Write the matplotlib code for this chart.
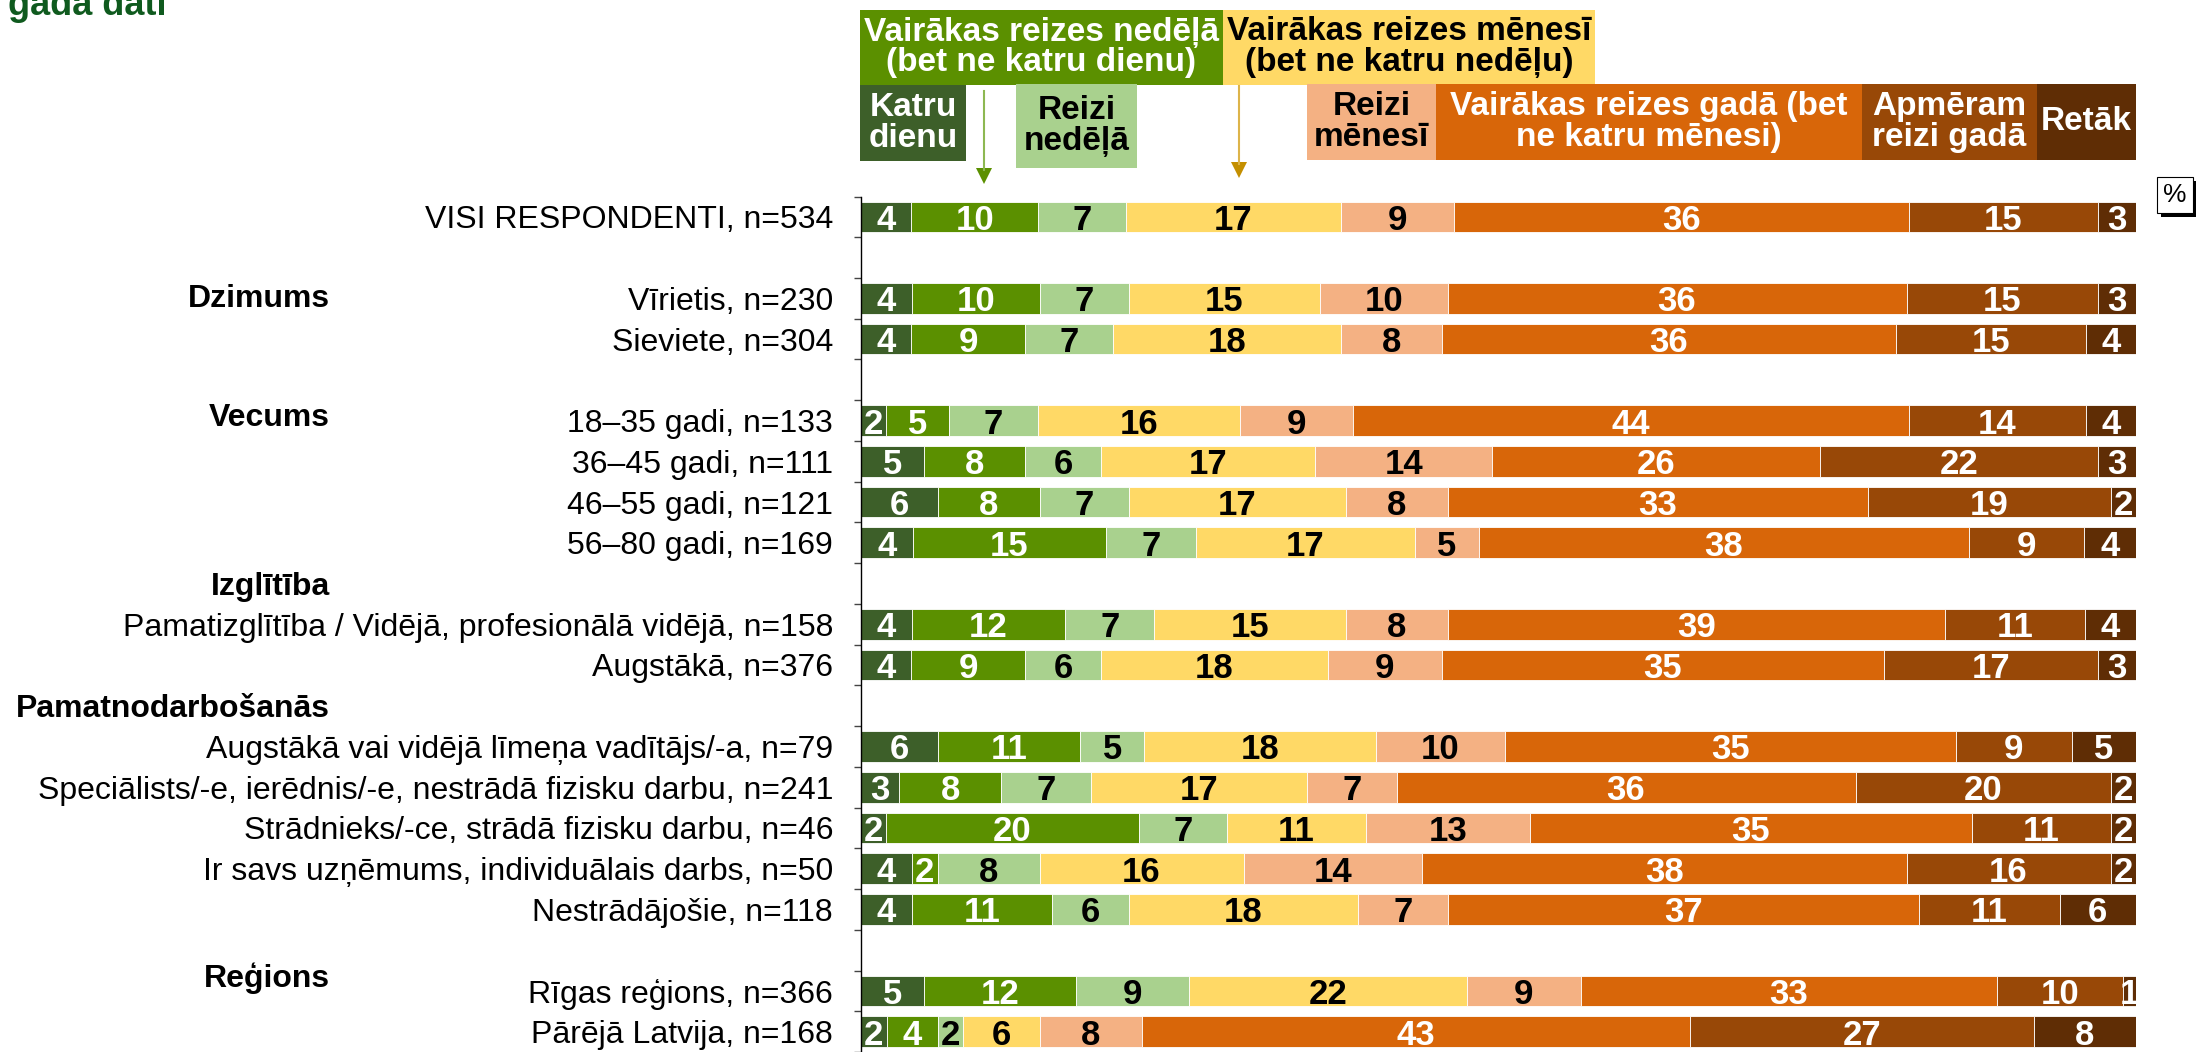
import matplotlib
matplotlib.use("Agg")
import matplotlib.pyplot as plt
import numpy as np
from matplotlib.patches import Rectangle, Polygon
from matplotlib.transforms import blended_transform_factory

# --- data -----------------------------------------------------------------
ROW_LABELS = [
    "VISI RESPONDENTI, n=534",
    "Vīrietis, n=230",
    "Sieviete, n=304",
    "18–35 gadi, n=133",
    "36–45 gadi, n=111",
    "46–55 gadi, n=121",
    "56–80 gadi, n=169",
    "Pamatizglītība / Vidējā, profesionālā vidējā, n=158",
    "Augstākā, n=376",
    "Augstākā vai vidējā līmeņa vadītājs/-a, n=79",
    "Speciālists/-e, ierēdnis/-e, nestrādā fizisku darbu, n=241",
    "Strādnieks/-ce, strādā fizisku darbu, n=46",
    "Ir savs uzņēmums, individuālais darbs, n=50",
    "Nestrādājošie, n=118",
    "Rīgas reģions, n=366",
    "Pārējā Latvija, n=168",
]
HEADINGS = ["Dzimums", "Vecums", "Izglītība", "Pamatnodarbošanās", "Reģions"]

katru_dienu = [4, 4, 4, 2, 5, 6, 4, 4, 4, 6, 3, 2, 4, 4, 5, 2]
vairakas_nedela = [10, 10, 9, 5, 8, 8, 15, 12, 9, 11, 8, 20, 2, 11, 12, 4]
reizi_nedela = [7, 7, 7, 7, 6, 7, 7, 7, 6, 5, 7, 7, 8, 6, 9, 2]
vairakas_menesi = [17, 15, 18, 16, 17, 17, 17, 15, 18, 18, 17, 11, 16, 18, 22, 6]
reizi_menesi = [9, 10, 8, 9, 14, 8, 5, 8, 9, 10, 7, 13, 14, 7, 9, 8]
vairakas_gada = [36, 36, 36, 44, 26, 33, 38, 39, 35, 35, 36, 35, 38, 37, 33, 43]
apmeram_gada = [15, 15, 15, 14, 22, 19, 9, 11, 17, 9, 20, 11, 16, 11, 10, 27]
retak = [3, 3, 4, 4, 3, 2, 4, 4, 3, 5, 2, 2, 2, 6, 1, 8]

SERIES = [katru_dienu, vairakas_nedela, reizi_nedela, vairakas_menesi,
          reizi_menesi, vairakas_gada, apmeram_gada, retak]
COLORS = ["#3D5F29", "#5B9000", "#A9D18E", "#FFD966",
          "#F4B183", "#D86609", "#984807", "#5F2D05"]
TEXT_COLORS = ["white", "white", "black", "black",
               "black", "white", "white", "white"]

# --- layout ---------------------------------------------------------------
W, H = 2196, 1052
ROW_SLOTS = [0, 2, 3, 5, 6, 7, 8, 10, 11, 13, 14, 15, 16, 17, 19, 20]
HEADING_SLOTS = [1.92, 4.84, 9.0, 12.0, 18.6]
STEP = 40.96          # pixels per slot
FIRST_Y = 217         # pixel centre of slot 0
AX_LEFT, AX_RIGHT = 861, 2136

FONT = ["Liberation Sans", "DejaVu Sans"]
FS = 23


def fx(x):
    return x / W


def fy(y):
    return 1 - y / H


fig = plt.figure(figsize=(W / 100, H / 100), dpi=100)
ax_top = FIRST_Y - STEP / 2
ax = fig.add_axes([fx(AX_LEFT), 0, fx(AX_RIGHT) - fx(AX_LEFT), fy(ax_top)])

data = np.array(SERIES, dtype=float)
shares = data / data.sum(axis=0) * 100
left = np.zeros(len(ROW_LABELS))
for i in range(len(SERIES)):
    ax.barh(ROW_SLOTS, shares[i], left=left, height=0.755, color=COLORS[i],
            edgecolor="white", linewidth=0.6)
    for j, v in enumerate(SERIES[i]):
        ax.text(left[j] + shares[i][j] / 2, ROW_SLOTS[j], str(v),
                ha="center", va="center_baseline", color=TEXT_COLORS[i],
                fontsize=25, fontweight="bold", family=FONT)
    left += shares[i]

ax.set_xlim(0, 100)
ax.set_ylim(-0.5 + (H - ax_top) / STEP, -0.5)
for s in ["top", "right", "bottom"]:
    ax.spines[s].set_visible(False)
ax.spines["left"].set_color("black")
ax.spines["left"].set_linewidth(1)
ax.set_xticks([])
ax.set_yticks(np.arange(-0.5, 21, 1))
ax.set_yticklabels([])
ax.tick_params(axis="y", length=5, width=1, color="#444444", direction="out")

# row labels and group headings
trans = blended_transform_factory(fig.transFigure, ax.transData)
for lab, slot in zip(ROW_LABELS, ROW_SLOTS):
    ax.text(fx(833), slot, lab, transform=trans, ha="right",
            va="center_baseline", fontsize=FS, family=FONT)
for lab, slot in zip(HEADINGS, HEADING_SLOTS):
    ax.text(fx(330), slot, lab, transform=trans, ha="right",
            va="center_baseline", fontsize=FS, fontweight="bold", family=FONT)

# legend boxes above the bars: (x0, x1, y0, y1, text, colour index)
boxes = [
    (860, 1223, 10, 85, "Vairākas reizes nedēļā\n(bet ne katru dienu)", 1),
    (1223, 1595, 10, 85, "Vairākas reizes mēnesī\n(bet ne katru nedēļu)", 3),
    (860, 966, 85, 161, "Katru\ndienu", 0),
    (1016, 1137, 84, 168, "Reizi\nnedēļā", 2),
    (1307, 1436, 84, 160, "Reizi\nmēnesī", 4),
    (1436, 1862, 84, 160, "Vairākas reizes gadā (bet\nne katru mēnesi)", 5),
    (1862, 2037, 84, 160, "Apmēram\nreizi gadā", 6),
    (2037, 2136, 84, 160, "Retāk", 7),
]
for x0, x1, y0, y1, txt, ci in boxes:
    fig.add_artist(Rectangle((fx(x0), fy(y1)), fx(x1) - fx(x0), fy(y0) - fy(y1),
                             transform=fig.transFigure, color=COLORS[ci], lw=0))
    fig.text(fx((x0 + x1) / 2), fy((y0 + y1) / 2), txt, ha="center",
             va="center", color=TEXT_COLORS[ci], fontsize=FS + 1,
             fontweight="bold", family=FONT, linespacing=1.0)

# arrows from the combined groups
for x, y0, tip, line_c, head_c in [(984, 91, 184, "#8DB852", "#5B9000"),
                                   (1239, 86, 178, "#DDB44A", "#C48F00")]:
    fig.add_artist(plt.Line2D([fx(x), fx(x)], [fy(y0), fy(tip - 14)],
                              transform=fig.transFigure, color=line_c, lw=1.5))
    fig.add_artist(Polygon([(fx(x - 8), fy(tip - 16)), (fx(x + 8), fy(tip - 16)),
                            (fx(x), fy(tip))], closed=True,
                           transform=fig.transFigure, color=head_c, lw=0))

# percent box with shadow
fig.add_artist(Rectangle((fx(2161), fy(217)), fx(36), fy(0) - fy(36),
                         transform=fig.transFigure, color="black", lw=0))
fig.add_artist(Rectangle((fx(2157), fy(213)), fx(36), fy(0) - fy(36),
                         transform=fig.transFigure, facecolor="white",
                         edgecolor="black", lw=0.8))
fig.text(fx(2175), fy(195), "%", ha="center", va="center", fontsize=19,
         family=FONT)

# title (only the last line is visible in the frame)
fig.text(fx(8), fy(15), "gada dati", ha="left", va="baseline", fontsize=26,
         fontweight="bold", color="#0F5A1E", family=FONT)

fig.savefig("out.png", dpi=100)
